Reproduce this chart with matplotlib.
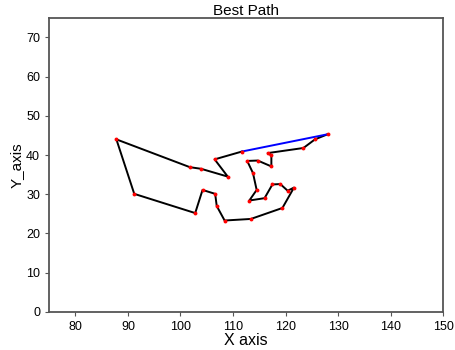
import matplotlib
matplotlib.use("Agg")
import matplotlib.pyplot as plt

plt.rcParams["font.family"] = ["Liberation Sans", "DejaVu Sans"]

# city coordinates in tour order
xs = [111.7, 106.5, 109.0, 103.9, 101.8, 87.8, 91.2, 102.8, 104.2, 106.6,
      106.9, 108.4, 113.4, 119.4, 121.6, 120.4, 119.0, 117.5, 116.0, 113.1,
      114.5, 113.8, 112.7, 114.7, 117.3, 117.3, 116.6, 123.4, 125.6, 128.0]
ys = [40.9, 38.9, 34.5, 36.5, 36.9, 44.0, 30.1, 25.2, 31.1, 30.1,
      27.0, 23.3, 23.7, 26.5, 31.7, 30.9, 32.6, 32.5, 29.0, 28.4,
      31.1, 35.4, 38.5, 38.6, 37.1, 39.9, 40.5, 41.8, 44.0, 45.3]

f = plt.figure(figsize=(4.55, 3.5), dpi=100)
ax = f.add_axes([0.108, 0.109, 0.866, 0.840])
ax.plot(xs, ys, "k", lw=1.4)
ax.plot([xs[-1], xs[0]], [ys[-1], ys[0]], "b", lw=1.4)
ax.plot(xs, ys, "o", color="red", ms=2.8, mec="none")
ax.set_xlim(75, 150)
ax.set_ylim(0, 75)
ax.set_xticks(range(80, 151, 10))
ax.set_yticks(range(0, 71, 10))
for s in ax.spines.values():
    s.set_color("#555555")
    s.set_linewidth(1.3)
ax.tick_params(labelsize=9, length=3, color="#555555")
ax.set_title("Best Path", fontsize=11, pad=2)
ax.set_xlabel("X axis", fontsize=11.5, labelpad=0)
ax.set_ylabel("Y_axis", fontsize=11, labelpad=2)
f.savefig("out.png", dpi=100)
